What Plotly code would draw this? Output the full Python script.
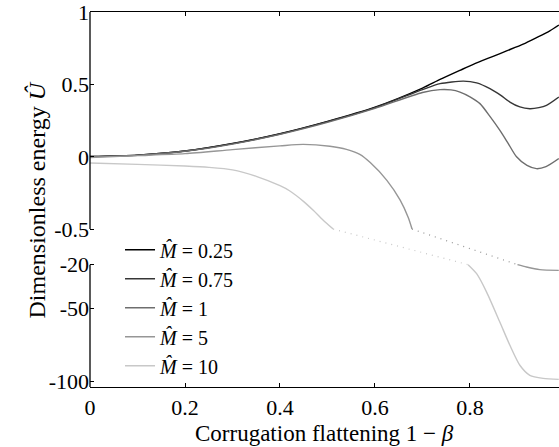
import numpy as np
import plotly.graph_objects as go

# ---- data (true values) ----
x_m025 = [0, 0.1, 0.2, 0.3, 0.4, 0.5, 0.6, 0.7, 0.737, 0.78, 0.807, 0.85, 0.877, 0.912, 0.94, 0.968, 0.987]
y_m025 = [0.003, 0.012, 0.04, 0.092, 0.16, 0.245, 0.343, 0.475, 0.535, 0.6, 0.64, 0.697, 0.733, 0.78, 0.825, 0.872, 0.912]

x_m075 = [0, 0.1, 0.2, 0.3, 0.4, 0.5, 0.6, 0.7, 0.737, 0.786, 0.814, 0.842, 0.865, 0.884, 0.905, 0.926, 0.945, 0.961, 0.987]
y_m075 = [0.003, 0.012, 0.04, 0.091, 0.158, 0.243, 0.34, 0.465, 0.506, 0.524, 0.512, 0.472, 0.425, 0.379, 0.345, 0.333, 0.34, 0.356, 0.414]

x_m1 = [0, 0.1, 0.2, 0.3, 0.4, 0.5, 0.6, 0.7, 0.737, 0.76, 0.779, 0.8, 0.821, 0.842, 0.863, 0.88, 0.898, 0.92, 0.94, 0.96, 0.987]
y_m1 = [0.0, 0.01, 0.038, 0.088, 0.155, 0.238, 0.335, 0.445, 0.465, 0.463, 0.448, 0.415, 0.368, 0.28, 0.183, 0.095, 0.0, -0.06, -0.082, -0.068, -0.012]

x_m5_up = [0, 0.1, 0.2, 0.3, 0.4, 0.449, 0.505, 0.54, 0.568, 0.59, 0.625, 0.653, 0.67, 0.678]
y_m5_up = [-0.005, 0.008, 0.022, 0.05, 0.076, 0.086, 0.073, 0.052, 0.017, -0.04, -0.163, -0.30, -0.42, -0.5]
x_m5_gap = [0.678, 0.90]
y_m5_gap = [-0.5, -20]
x_m5_low = [0.90, 0.919, 0.947, 0.987]
y_m5_low = [-20, -21.6, -23.4, -23.9]

x_m10_up = [0, 0.1, 0.2, 0.25, 0.3, 0.35, 0.4, 0.42, 0.45, 0.47, 0.49, 0.512]
y_m10_up = [-0.043, -0.052, -0.064, -0.073, -0.09, -0.135, -0.2, -0.235, -0.31, -0.37, -0.435, -0.5]
x_m10_gap = [0.512, 0.796]
y_m10_gap = [-0.5, -20]
x_m10_low = [0.796, 0.814, 0.835, 0.863, 0.884, 0.905, 0.926, 0.954, 0.987]
y_m10_low = [-20, -26.2, -38.8, -59.5, -75.3, -89, -95.9, -98, -98.7]

labels = ["<i>M\u0302</i> = 0.25", "<i>M\u0302</i> = 0.75", "<i>M\u0302</i> = 1",
          "<i>M\u0302</i> = 5", "<i>M\u0302</i> = 10"]
colors = ["#000000", "#363636", "#6e6e6e", "#969696", "#c8c8c8"]

ytick_vals = [1, 0.5, 0, -0.5, -20, -50, -100]
ytick_text = ["1", "0.5", "0", "-0.5", "-20", "-50", "-100"]
xtick_vals = [0, 0.2, 0.4, 0.6, 0.8]
xtick_text = ["0", "0.2", "0.4", "0.6", "0.8"]

# ---- broken y-axis transform ----
GAP = 0.2462      # gap between -0.5 (upper) and -20 (lower), in upper units
S = 0.01009       # scale of lower panel relative to upper
Y20 = -0.5 - GAP


def T(y):
    y = np.asarray(y, dtype=float)
    return np.interp(y, [-300, -20, -0.5, 3], [Y20 - 280 * S, Y20, -0.5, 3])


Y_BOTTOM = -103.9
Y_TOP = 1.002
X_MAX = 0.9874

FONT = "Liberation Serif"
fig = go.Figure()
LW = 1.4

solid = [(x_m025, y_m025), (x_m075, y_m075), (x_m1, y_m1), (x_m5_up, y_m5_up), (x_m10_up, y_m10_up)]
for i, (xs, ys) in enumerate(solid):
    fig.add_trace(go.Scatter(x=xs, y=T(ys), mode="lines", name=labels[i],
                             line=dict(color=colors[i], width=LW, shape="spline", smoothing=0.7)))

fig.add_trace(go.Scatter(x=x_m5_low, y=T(y_m5_low), mode="lines", showlegend=False,
                         line=dict(color=colors[3], width=LW, shape="spline", smoothing=0.7)))
fig.add_trace(go.Scatter(x=x_m10_low, y=T(y_m10_low), mode="lines", showlegend=False,
                         line=dict(color=colors[4], width=LW, shape="spline", smoothing=0.7)))
fig.add_trace(go.Scatter(x=x_m5_gap, y=T(y_m5_gap), mode="lines", showlegend=False,
                         line=dict(color=colors[3], width=1.2, dash="1px,5px")))
fig.add_trace(go.Scatter(x=x_m10_gap, y=T(y_m10_gap), mode="lines", showlegend=False,
                         line=dict(color=colors[4], width=1.2, dash="1px,5px")))

# left spine (broken)
fig.add_shape(type="line", xref="paper", yref="y", x0=0, x1=0,
              y0=float(T(-0.5)), y1=Y_TOP, line=dict(color="black", width=1.3))
fig.add_shape(type="line", xref="paper", yref="y", x0=0, x1=0,
              y0=float(T(Y_BOTTOM)), y1=float(T(-20)), line=dict(color="black", width=1.3))

fig.add_annotation(text="Dimensionless energy <i>U\u0302</i>", xref="paper", yref="paper",
                   x=-0.145, y=0.5, textangle=-90, showarrow=False,
                   font=dict(family=FONT, size=24, color="black"))
fig.add_annotation(text="Corrugation flattening 1 \u2212 <i>\u03b2</i>", xref="paper", yref="paper",
                   x=0.5, y=-0.124, showarrow=False, yanchor="middle",
                   font=dict(family=FONT, size=23, color="black"))

fig.update_layout(
    width=559, height=447,
    margin=dict(l=90, r=0, t=12, b=60),
    paper_bgcolor="white", plot_bgcolor="white",
    font=dict(family=FONT, size=22, color="black"),
    showlegend=True,
    legend=dict(x=0.064, y=0.418, xanchor="left", yanchor="top",
                bgcolor="rgba(0,0,0,0)", tracegroupgap=0,
                font=dict(family=FONT, size=20, color="black")),
    xaxis=dict(range=[0, X_MAX], tickvals=xtick_vals, ticktext=xtick_text,
               showline=True, linecolor="black", linewidth=1.3, mirror="ticks",
               ticks="inside", ticklen=4, tickcolor="black", showgrid=False, zeroline=False,
               ticklabeloverflow="allow"),
    yaxis=dict(range=[float(T(Y_BOTTOM)), Y_TOP], tickvals=T(ytick_vals).tolist(), ticktext=ytick_text,
               showline=False, ticks="inside", ticklen=4, tickcolor="black",
               showgrid=False, zeroline=False, ticklabeloverflow="allow"),
)

fig.write_html("out.html", config={"displayModeBar": False},
               post_script="document.body.style.margin='0px';")
